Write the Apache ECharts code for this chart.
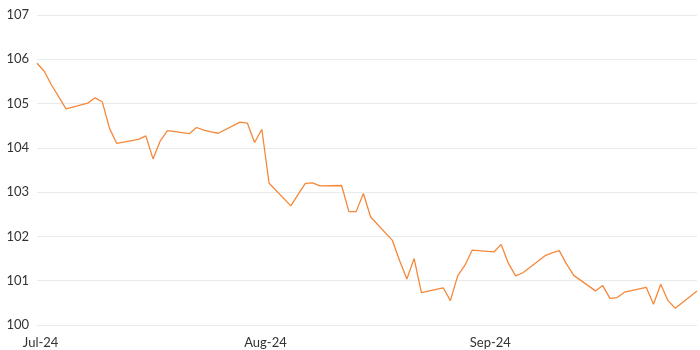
<!DOCTYPE html>
<html>
<head>
<meta charset="utf-8">
<script src="https://cdn.jsdelivr.net/npm/echarts@6/dist/echarts.min.js"></script>
<style>
html,body{margin:0;padding:0;background:#fff;}
#chart{width:700px;height:350px;}
</style>
</head>
<body>
<div id="chart"></div>
<script>
var dates = [
  '2024-07-01','2024-07-02','2024-07-03','2024-07-04','2024-07-05',
  '2024-07-08','2024-07-09','2024-07-10','2024-07-11','2024-07-12',
  '2024-07-15','2024-07-16','2024-07-17','2024-07-18','2024-07-19',
  '2024-07-22','2024-07-23','2024-07-24','2024-07-25','2024-07-26',
  '2024-07-29','2024-07-30','2024-07-31','2024-08-01','2024-08-02',
  '2024-08-05','2024-08-06','2024-08-07','2024-08-08','2024-08-09',
  '2024-08-12','2024-08-13','2024-08-14','2024-08-15','2024-08-16',
  '2024-08-19','2024-08-20','2024-08-21','2024-08-22','2024-08-23',
  '2024-08-26','2024-08-27','2024-08-28','2024-08-29','2024-08-30',
  '2024-09-02','2024-09-03','2024-09-04','2024-09-05','2024-09-06',
  '2024-09-09','2024-09-10','2024-09-11','2024-09-12','2024-09-13',
  '2024-09-16','2024-09-17','2024-09-18','2024-09-19','2024-09-20',
  '2024-09-23','2024-09-24','2024-09-25','2024-09-26','2024-09-27',
  '2024-09-30'
];
var values = [
  105.91,105.73,105.42,105.15,104.88,
  105.01,105.13,105.04,104.44,104.10,
  104.19,104.27,103.75,104.16,104.39,
  104.32,104.46,104.40,104.36,104.33,
  104.58,104.56,104.12,104.42,103.20,
  102.69,102.95,103.20,103.21,103.14,
  103.15,102.56,102.56,102.97,102.44,
  101.91,101.45,101.04,101.50,100.73,
  100.84,100.55,101.11,101.35,101.69,
  101.65,101.82,101.39,101.11,101.18,
  101.56,101.63,101.68,101.38,101.12,
  100.77,100.89,100.60,100.62,100.74,
  100.85,100.47,100.92,100.55,100.38,
  100.77
];
var monthTicks = ['2024-07-01','2024-08-01','2024-09-01'];
var monthNames = ['Jan','Feb','Mar','Apr','May','Jun','Jul','Aug','Sep','Oct','Nov','Dec'];
var yMin = 100, yMax = 107, yStep = 1;

function ts(s){ var p = s.split('-'); return new Date(+p[0], +p[1]-1, +p[2]).getTime(); }
var halfDay = 12*3600*1000;

var chart = echarts.init(document.getElementById('chart'), null, {renderer:'canvas'});
chart.setOption({
  animation:false,
  backgroundColor:'#ffffff',
  grid:{left:37, right:3, top:15, bottom:25, containLabel:false, outerBoundsMode:'none'},
  xAxis:{
    type:'value',
    min: ts(dates[0]),
    max: ts(dates[dates.length-1]),
    axisLine:{show:false},
    axisTick:{show:false},
    splitLine:{show:false},
    axisLabel:{
      customValues: monthTicks.map(function(s){return ts(s)+halfDay;}),
      formatter:function(v){ var d=new Date(v); return monthNames[d.getMonth()]+'-'+String(d.getFullYear()).slice(2); },
      color:'#333333', fontFamily:'Lato', fontSize:13, margin:11,
      hideOverlap:false, showMinLabel:true, showMaxLabel:true
    }
  },
  yAxis:{
    type:'value', min:yMin, max:yMax, interval:yStep,
    axisLine:{show:false}, axisTick:{show:false},
    splitLine:{show:true, lineStyle:{color:'#e6ebeb', width:1}},
    axisLabel:{color:'#333333', fontFamily:'Lato', fontSize:13, margin:8}
  },
  series:[{
    type:'line',
    data: dates.map(function(d,i){ return [ts(d), values[i]]; }),
    showSymbol:false,
    symbol:'none',
    lineStyle:{color:'#f5883a', width:1.3},
    itemStyle:{color:'#f5883a'}
  }]
});
</script>
</body>
</html>
